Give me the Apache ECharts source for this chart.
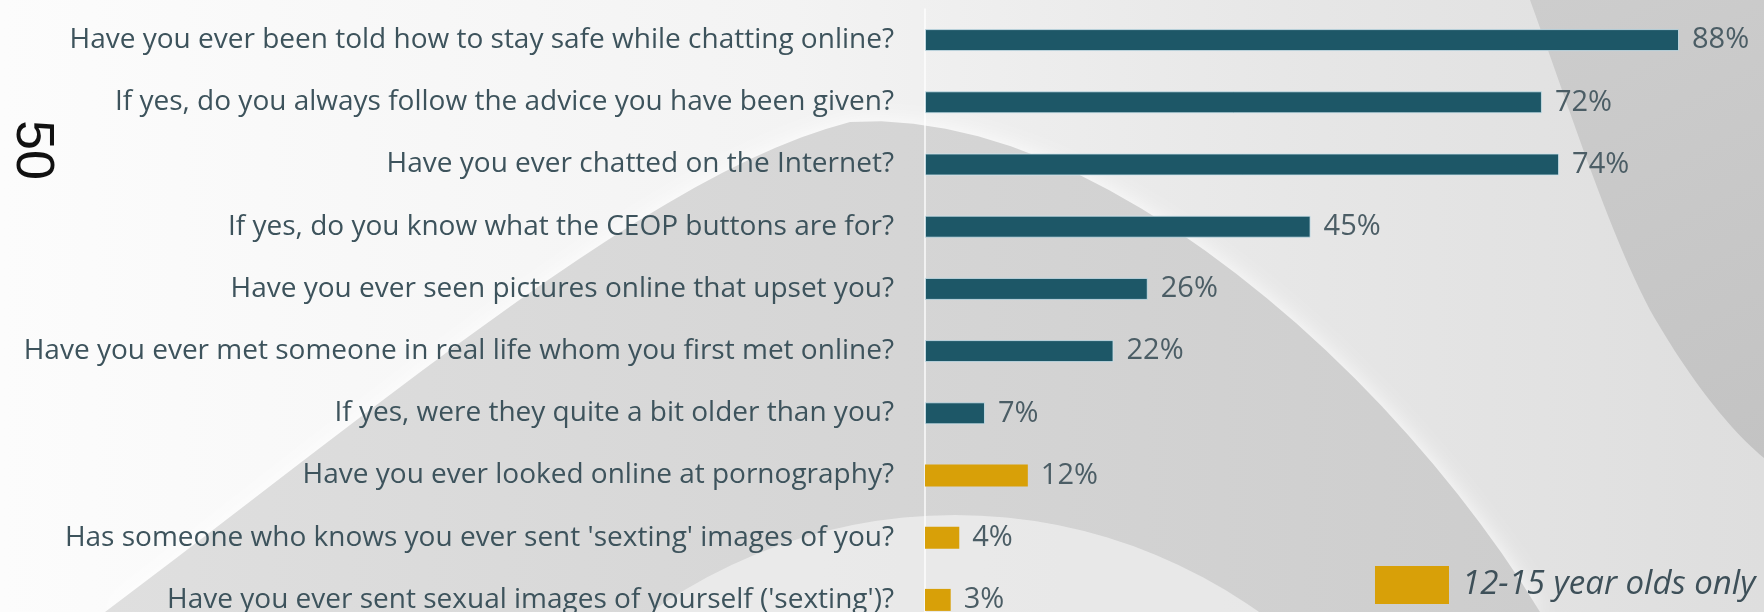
<!DOCTYPE html>
<html>
<head>
<meta charset="utf-8">
<script src="https://cdn.jsdelivr.net/npm/echarts@6/dist/echarts.min.js"></script>
<style>
  html, body { margin: 0; padding: 0; background: #f2f2f2; }
  #chart { width: 1764px; height: 612px; }
</style>
</head>
<body>
<div id="chart"></div>
<script>
// Survey questions, top to bottom
const questions = [
  'Have you ever been told how to stay safe while chatting online?',
  'If yes, do you always follow the advice you have been given?',
  'Have you ever chatted on the Internet?',
  'If yes, do you know what the CEOP buttons are for?',
  'Have you ever seen pictures online that upset you?',
  'Have you ever met someone in real life whom you first met online?',
  'If yes, were they quite a bit older than you?',
  'Have you ever looked online at pornography?',
  "Has someone who knows you ever sent 'sexting' images of you?",
  "Have you ever sent sexual images of yourself ('sexting')?"
];

// Percentage answering yes
const yesPercent = [88, 72, 74, 45, 26, 22, 7, 12, 4, 3];

// Questions asked of 12-15 year olds only
const teenOnly = [false, false, false, false, false, false, false, true, true, true];

const teenLabel = '12-15 year olds only';
const pageNumber = '50';

const allAgesData = yesPercent.map((v, i) => (teenOnly[i] ? '-' : v));
const teenData = yesPercent.map((v, i) => (teenOnly[i] ? v : '-'));

// Turns a chain of cubic bezier segments into polygon points for the backdrop shapes
function bezierOutline(start, segments, extra) {
  const pts = [start];
  let p0 = start;
  segments.forEach(([c1, c2, p3]) => {
    for (let k = 1; k <= 24; k++) {
      const t = k / 24, u = 1 - t;
      pts.push([
        u * u * u * p0[0] + 3 * u * u * t * c1[0] + 3 * u * t * t * c2[0] + t * t * t * p3[0],
        u * u * u * p0[1] + 3 * u * u * t * c1[1] + 3 * u * t * t * c2[1] + t * t * t * p3[1]
      ]);
    }
    p0 = p3;
  });
  return pts.concat(extra || []);
}

const archPoints = bezierOutline([105, 612], [
  [[400, 390], [660, 170], [850, 122]],
  [[1100, 105], [1400, 380], [1540, 612]]
]);

const rightSweepPoints = bezierOutline([1530, 0], [
  [[1570, 110], [1608, 230], [1650, 310]],
  [[1690, 380], [1730, 430], [1764, 458]]
], [[1764, 0]]);

const chart = echarts.init(document.getElementById('chart'), null, { renderer: 'canvas' });

const valueLabel = {
  show: true,
  position: 'right',
  distance: 13,
  formatter: '{c}%',
  fontFamily: 'Open Sans',
  fontSize: 29,
  color: '#4b5d65'
};

chart.setOption({
  backgroundColor: '#f2f2f2',
  animation: false,
  graphic: [
    // soft slide background
    {
      type: 'rect', z: -10, silent: true,
      shape: { x: 0, y: 0, width: 1764, height: 612 },
      style: {
        fill: new echarts.graphic.LinearGradient(0, 0, 1, 0, [
          { offset: 0, color: '#fcfcfc' },
          { offset: 0.45, color: '#f3f3f3' },
          { offset: 0.75, color: '#e6e6e6' },
          { offset: 1, color: '#dedede' }
        ])
      }
    },
    // large grey arch
    {
      type: 'polygon', z: -9, silent: true,
      shape: { points: archPoints },
      style: {
        fill: new echarts.graphic.LinearGradient(0, 0, 1, 0, [
          { offset: 0, color: '#dfdfdf' },
          { offset: 0.5, color: '#d6d6d6' },
          { offset: 1, color: '#cdcdcd' }
        ]),
        shadowBlur: 22,
        shadowColor: 'rgba(255,255,255,0.9)'
      }
    },
    // darker sweep on the right edge
    {
      type: 'polygon', z: -9, silent: true,
      shape: { points: rightSweepPoints },
      style: {
        fill: new echarts.graphic.LinearGradient(0, 0, 1, 1, [
          { offset: 0, color: '#cdcdcd' },
          { offset: 1, color: '#c3c3c3' }
        ])
      }
    },
    // light disc at the bottom
    {
      type: 'circle', z: -8, silent: true,
      shape: { cx: 955, cy: 1040, r: 525 },
      style: { fill: 'rgba(246,246,246,0.6)' }
    },
    // page number
    {
      type: 'text', z: 10, silent: true,
      x: 32, y: 150, rotation: -Math.PI / 2,
      style: {
        text: pageNumber,
        fontFamily: 'Liberation Sans',
        fontSize: 54,
        fill: '#111111',
        align: 'center',
        verticalAlign: 'middle'
      }
    }
  ],
  legend: {
    data: [{ name: teenLabel, icon: 'rect' }],
    left: 1370,
    top: 561,
    itemWidth: 74,
    itemHeight: 38,
    selectedMode: false,
    textStyle: {
      fontFamily: 'Open Sans',
      fontStyle: 'italic',
      fontSize: 33,
      color: '#3e5059',
      padding: [0, 0, 0, 8]
    }
  },
  grid: { left: 925, top: 9, width: 814, height: 622, outerBoundsMode: 'none' },
  xAxis: {
    type: 'value',
    min: 0,
    max: 95,
    show: false
  },
  yAxis: {
    type: 'category',
    inverse: true,
    data: questions,
    axisTick: { show: false },
    axisLine: { show: true, lineStyle: { color: 'rgba(255,255,255,0.9)', width: 1.5 } },
    axisLabel: {
      fontFamily: 'Open Sans',
      fontSize: 28,
      color: '#3d535c',
      margin: 31
    }
  },
  series: [
    {
      name: 'All ages',
      type: 'bar',
      data: allAgesData,
      barWidth: 22,
      barGap: '-100%',
      itemStyle: { color: '#1d5767', borderColor: 'rgba(205,228,236,0.8)', borderWidth: 1 },
      label: valueLabel
    },
    {
      name: teenLabel,
      type: 'bar',
      data: teenData,
      barWidth: 22,
      barGap: '-100%',
      itemStyle: { color: '#d8a008' },
      label: valueLabel
    }
  ]
});
</script>
</body>
</html>
